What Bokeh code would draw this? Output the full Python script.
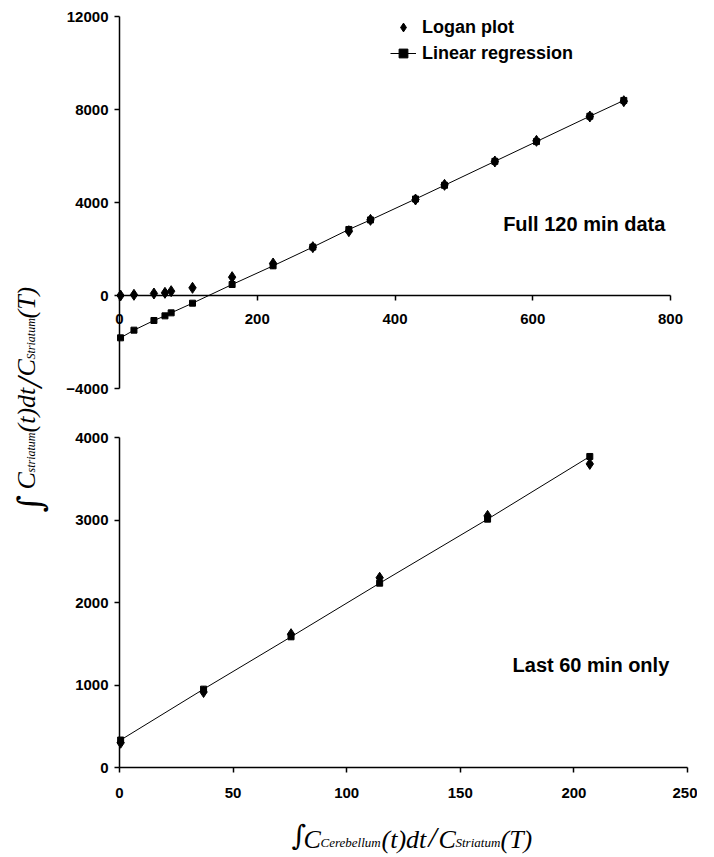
import math
from bokeh.plotting import figure
from bokeh.models import Range1d, FixedTicker, Label, Legend, LegendItem
from bokeh.layouts import row, column
from bokeh.embed import file_html
from bokeh.resources import INLINE

# ---------------- data ----------------
full_x = [1.5, 21, 50, 66, 75, 106, 163.5, 223, 280.7, 333, 364.4, 429.8, 471.9, 545, 605.4, 682.9, 732.2]
full_logan = [0, 30, 86, 115, 186, 330, 789, 1377, 2079, 2767, 3254, 4129, 4760, 5763, 6652, 7699, 8358]
full_fit = [-1821, -1491, -1075, -875, -746, -330, 473, 1276, 2082, 2840, 3250, 4150, 4740, 5770, 6620, 7710, 8390]

last_x = [0.5, 37, 75.5, 114.5, 162, 207]
last_logan = [300, 915, 1616, 2300, 3050, 3680]
last_fit = [333, 950, 1584, 2234, 3010, 3770]

full_xticks = [0, 200, 400, 600, 800]
full_yticks = [-4000, 0, 4000, 8000, 12000]
last_xticks = [0, 50, 100, 150, 200, 250]
last_yticks = [0, 1000, 2000, 3000, 4000]

SANS = "Liberation Sans"
SERIF = "Liberation Serif"
INTEGRAL_FONT = "DejaVu Serif"

# ---------------- page geometry (pixels) ----------------
STRIP_W = 58                   # y-title strip
PANEL_L, PANEL_R = 58, 697     # horizontal extent of both panel canvases
TOP_Y0, TOP_Y1 = 0, 412        # top panel canvas
BOT_Y0, BOT_Y1 = 412, 857      # bottom panel canvas
PW = PANEL_R - PANEL_L

# where the axes sit on the page
T_X0, T_X800 = 119, 670        # top: x=0 and x=800
T_Y12K, T_YM4K = 16, 388       # top: y=12000 and y=-4000
B_X0, B_X250 = 119, 687        # bottom: x=0 and x=250
B_Y4K, B_Y0 = 437, 767         # bottom: y=4000 and y=0


def lin_range(p0, p1, v0, v1, a, b):
    """data values at page pixels a and b, given value v0 at p0 and v1 at p1"""
    k = (v1 - v0) / (p1 - p0)
    return v0 + (a - p0) * k, v0 + (b - p0) * k


def style_axes(p):
    for ax in list(p.xaxis) + list(p.yaxis):
        ax.axis_line_color = "black"
        ax.axis_line_width = 1.5
        ax.major_tick_line_color = "black"
        ax.major_tick_line_width = 1.5
        ax.major_tick_out = 5
        ax.major_tick_in = 0
        ax.minor_tick_line_color = None
        ax.major_label_text_font = SANS
        ax.major_label_text_font_style = "bold"
        ax.major_label_text_font_size = "15px"
        ax.major_label_text_color = "black"
    p.xgrid.visible = False
    p.ygrid.visible = False
    p.outline_line_color = None


def piece(p, x, y, text, size, style="italic", angle=0.0, font=SERIF):
    p.add_layout(Label(x=x, y=y, text=text, text_font=font, text_font_style=style,
                       text_font_size=f"{size}px", text_color="black",
                       text_align="left", text_baseline="alphabetic", angle=angle))


def panel(xr, yr, h):
    return figure(frame_width=PW, frame_height=h,
                  x_range=Range1d(*xr), y_range=Range1d(*yr),
                  output_backend="svg", toolbar_location=None,
                  min_border=0, min_border_left=0, min_border_right=0,
                  min_border_top=0, min_border_bottom=0, align="start")


# ---------------- top panel: full 120 min ----------------
top_xr = lin_range(T_X0, T_X800, 0, 800, PANEL_L, PANEL_R)
top_yr = lin_range(T_YM4K, T_Y12K, -4000, 12000, TOP_Y1, TOP_Y0)
top = panel(top_xr, top_yr, TOP_Y1 - TOP_Y0)
top.xaxis.ticker = FixedTicker(ticks=full_xticks)
top.yaxis.ticker = FixedTicker(ticks=full_yticks)
top.xaxis.fixed_location = 0
top.yaxis.fixed_location = 0
top.xaxis.bounds = (0, 800)
top.yaxis.bounds = (-4000, 12000)
style_axes(top)
top.xaxis.major_label_standoff = 13
top.yaxis.major_label_standoff = 6

t_line = top.line(full_x, full_fit, line_color="black", line_width=1)
t_sq = top.scatter(full_x, full_fit, marker="square", size=6,
                   fill_color="black", line_color="black")
t_dm = top.scatter(full_x, full_logan, marker="diamond", size=11,
                   fill_color="black", line_color="black")

legend = Legend(items=[LegendItem(label="Logan plot", renderers=[t_dm]),
                       LegendItem(label="Linear regression", renderers=[t_line, t_sq])],
                location=(390 - PANEL_L, TOP_Y1 - 64))
legend.label_text_font = SANS
legend.label_text_font_style = "bold"
legend.label_text_font_size = "18px"
legend.label_text_color = "black"
legend.glyph_width = 26
legend.glyph_height = 22
legend.label_height = 22
legend.label_standoff = 6
legend.spacing = 4
legend.padding = 0
legend.margin = 0
legend.border_line_color = None
legend.background_fill_alpha = 0
top.add_layout(legend)

top.add_layout(Label(x=557, y=3054, text="Full 120 min data", text_baseline="middle",
                     text_font=SANS, text_font_style="bold", text_font_size="20px",
                     text_color="black"))

# ---------------- bottom panel: last 60 min ----------------
bot_xr = lin_range(B_X0, B_X250, 0, 250, PANEL_L, PANEL_R)
bot_yr = lin_range(B_Y0, B_Y4K, 0, 4000, BOT_Y1, BOT_Y0)
bot = panel(bot_xr, bot_yr, BOT_Y1 - BOT_Y0)
bot.xaxis.ticker = FixedTicker(ticks=last_xticks)
bot.yaxis.ticker = FixedTicker(ticks=last_yticks)
bot.xaxis.fixed_location = 0
bot.yaxis.fixed_location = 0
bot.xaxis.bounds = (0, 250)
bot.yaxis.bounds = (0, 4000)
style_axes(bot)
bot.xaxis.major_label_standoff = 15
bot.yaxis.major_label_standoff = 6

bot.line(last_x, last_fit, line_color="black", line_width=1)
bot.scatter(last_x, last_fit, marker="square", size=6,
            fill_color="black", line_color="black")
bot.scatter(last_x, last_logan, marker="diamond", size=11,
            fill_color="black", line_color="black")
bot.add_layout(Label(x=173, y=1245, text="Last 60 min only", text_baseline="middle",
                     text_font=SANS, text_font_style="bold", text_font_size="20px",
                     text_color="black"))

# x-axis title, inside the bottom canvas below the axis
def bx(page_x):
    return (page_x - B_X0) * 250.0 / (B_X250 - B_X0)

def by(page_y):
    return (B_Y0 - page_y) * 4000.0 / (B_Y0 - B_Y4K)

piece(bot, bx(291), by(835), "\u222b", 28, style="normal", font=INTEGRAL_FONT)
piece(bot, bx(303), by(839), "C", 26)
piece(bot, bx(320), by(842), "Cerebellum", 13)
piece(bot, bx(381), by(839), "(t)dt", 26)
piece(bot, bx(428), by(836), "/", 30)
piece(bot, bx(438), by(839), "C", 26)
piece(bot, bx(455), by(842), "Striatum", 13)
piece(bot, bx(500), by(839), "(T)", 26)

# ---------------- y-axis title strip ----------------
LH = 857
ylab = figure(width=STRIP_W, height=LH, x_range=Range1d(0, STRIP_W), y_range=Range1d(0, LH),
              output_backend="svg", toolbar_location=None,
              min_border=0, min_border_left=0, min_border_right=0,
              min_border_top=0, min_border_bottom=0,
              x_axis_location=None, y_axis_location=None, align="start")
ylab.outline_line_color = None
ylab.xgrid.visible = False
ylab.ygrid.visible = False

A = math.pi / 2
def py(page_y):
    return LH - page_y

BX = 26
piece(ylab, BX + 3, py(512), "\u222b", 34, style="normal", angle=A, font=INTEGRAL_FONT)
piece(ylab, BX, py(489), "C", 26, angle=A)
piece(ylab, BX + 4, py(472), "striatum", 12, angle=A)
piece(ylab, BX, py(432), "(t)dt", 26, angle=A)
piece(ylab, BX + 3, py(387), "/", 36, angle=A)
piece(ylab, BX, py(376), "C", 26, angle=A)
piece(ylab, BX + 4, py(359), "Striatum", 12, angle=A)
piece(ylab, BX, py(318), "(T)", 26, angle=A)

layout = row(ylab, column(top, bot))

open("out.html", "w").write(file_html(layout, INLINE))
